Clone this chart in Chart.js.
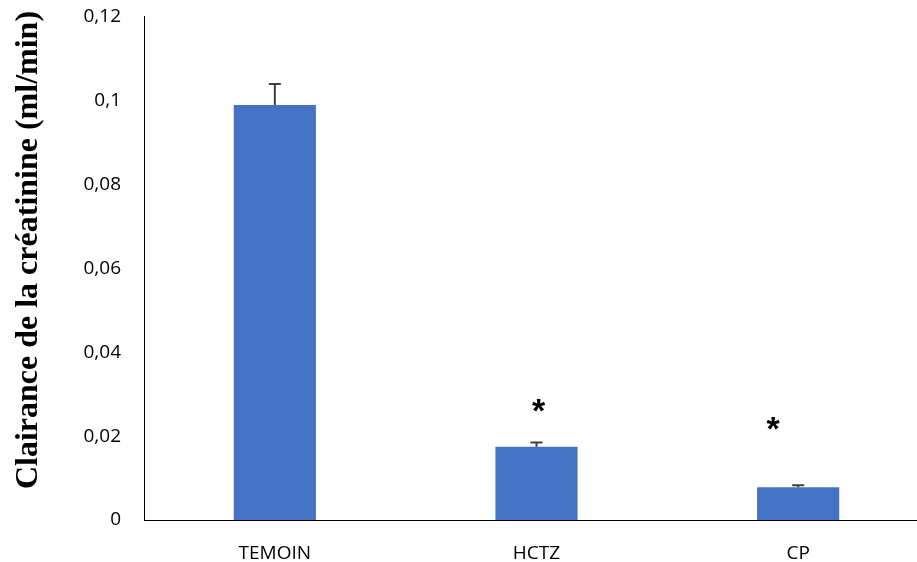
<!DOCTYPE html>
<html>
<head>
<meta charset="utf-8">
<script src="https://cdn.jsdelivr.net/npm/chart.js@4"></script>
<style>
  html, body { margin: 0; padding: 0; background: #fff; overflow: hidden; }
  #wrap { width: 917px; height: 562px; overflow: hidden; }
</style>
</head>
<body>
<div id="wrap"><canvas id="c" width="929" height="562"></canvas></div>
<script>
const categories = ["TEMOIN", "HCTZ", "CP"];
const means = [0.099, 0.0175, 0.0078];
const errors = [0.005, 0.001, 0.0005];
const yTickLabels = ["0", "0,02", "0,04", "0,06", "0,08", "0,1", "0,12"];
const significance = ["", "*", "*"];
const asteriskLevels = [null, 0.0272, 0.0231];
const yTitle = "Clairance de la créatinine (ml/min)";

const annotations = {
  id: 'annotations',
  afterDatasetsDraw(chart) {
    const ctx = chart.ctx;
    const xs = chart.scales.x, ys = chart.scales.y;
    // error bars
    ctx.save();
    ctx.strokeStyle = '#404040';
    ctx.lineWidth = 2;
    means.forEach((m, i) => {
      const x = xs.getPixelForValue(i);
      const y0 = ys.getPixelForValue(m);
      const y1 = ys.getPixelForValue(m + errors[i]);
      ctx.beginPath();
      ctx.moveTo(x, y0);
      ctx.lineTo(x, y1);
      ctx.moveTo(x - 6, y1);
      ctx.lineTo(x + 6, y1);
      ctx.stroke();
    });
    ctx.restore();
    // significance asterisks
    const offsets = [0, 2, -25];
    ctx.save();
    ctx.fillStyle = '#000';
    ctx.font = 'bold 34px "Liberation Sans"';
    ctx.textAlign = 'center';
    ctx.textBaseline = 'alphabetic';
    significance.forEach((s, i) => {
      if (!s || asteriskLevels[i] == null) return;
      const m = ctx.measureText(s);
      const x = xs.getPixelForValue(i) + offsets[i];
      const y = ys.getPixelForValue(asteriskLevels[i]);
      const base = y - (m.actualBoundingBoxDescent - m.actualBoundingBoxAscent) / 2;
      ctx.fillText(s, x, base);
    });
    ctx.restore();
  },
  afterDraw(chart) {
    const ctx = chart.ctx;
    ctx.save();
    ctx.fillStyle = '#000';
    ctx.font = 'bold 32px "Liberation Serif"';
    ctx.textAlign = 'center';
    ctx.textBaseline = 'alphabetic';
    ctx.translate(37, 250);
    ctx.rotate(-Math.PI / 2);
    ctx.fillText(yTitle, 0, 0);
    ctx.restore();
  }
};

new Chart(document.getElementById('c'), {
  type: 'bar',
  data: {
    labels: categories,
    datasets: [{
      data: means,
      backgroundColor: '#4472C4',
      borderWidth: 0,
      categoryPercentage: 1,
      barPercentage: 0.314
    }]
  },
  options: {
    responsive: false,
    animation: false,
    layout: { padding: { top: 10, right: 0, left: 0, bottom: 0 } },
    plugins: { legend: { display: false }, tooltip: { enabled: false } },
    scales: {
      x: {
        grid: { display: false },
        border: { display: true, color: '#000', width: 1 },
        ticks: { color: '#000', font: { family: 'Open Sans', size: 19 }, padding: 14 },
        afterFit: s => { s.height = 42; }
      },
      y: {
        min: 0,
        max: 0.12,
        grid: { display: false },
        border: { display: true, color: '#000', width: 1 },
        ticks: {
          stepSize: 0.02,
          color: '#000',
          font: { family: 'Open Sans', size: 19, lineHeight: 0.2 },
          padding: 15,
          callback: (v, i) => yTickLabels[i]
        },
        afterFit: s => { s.width = 144; }
      }
    }
  },
  plugins: [annotations]
});
</script>
</body>
</html>
